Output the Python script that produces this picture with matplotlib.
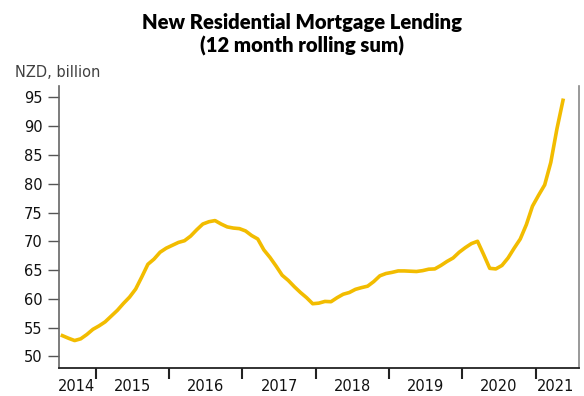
import matplotlib
matplotlib.use("Agg")
import matplotlib.pyplot as plt
import numpy as np

# 12 month rolling sum of new residential mortgage lending, NZD billion, Jul 2014 - May 2021
start_year = 2014
start_month = 7
lending = [
    53.6, 53.15, 52.75, 53.05, 53.8, 54.7, 55.3, 56.0, 57.0, 58.0, 59.2, 60.3,
    61.7, 63.8, 66.0, 66.9, 68.1, 68.8, 69.3, 69.8, 70.1, 70.9, 72.0, 73.0,
    73.4, 73.6, 73.0, 72.5, 72.3, 72.2, 71.8, 71.0, 70.4, 68.5, 67.2, 65.7,
    64.1, 63.2, 62.1, 61.1, 60.2, 59.15, 59.25, 59.55, 59.5, 60.2, 60.8, 61.1,
    61.65, 61.95, 62.2, 63.0, 64.0, 64.4, 64.6, 64.85, 64.85, 64.8, 64.75, 64.9,
    65.15, 65.2, 65.8, 66.5, 67.1, 68.1, 68.9, 69.6, 70.0, 67.7, 65.3, 65.2,
    65.8, 67.1, 68.8, 70.4, 72.9, 76.1, 78.0, 79.8, 83.7, 89.5, 94.5,
]
years = [2014, 2015, 2016, 2017, 2018, 2019, 2020, 2021]
y_ticks = [50, 55, 60, 65, 70, 75, 80, 85, 90, 95]

# monthly points placed mid-month on a fractional-year axis
x = start_year + (start_month - 1 + np.arange(len(lending)) + 0.5) / 12.0

fig = plt.figure(figsize=(5.84, 3.96), dpi=100)
ax = fig.add_axes([0.101, 0.071, 0.890, 0.712])

ax.plot(x, lending, color="#F2BC00", lw=2.6, solid_joinstyle="round")

ax.set_xlim(2014.495, 2021.59)
ax.set_ylim(48.0, 97.0)

# year boundaries as tick marks, year names between them
ax.set_xticks(years[1:])
ax.set_xticklabels([])
ax.tick_params(axis="x", direction="out", length=8, width=1.5, color="#222222")
label_pos = [2014.74, 2015.5, 2016.5, 2017.5, 2018.5, 2019.5, 2020.5, 2021.28]
for yr, pos in zip(years, label_pos):
    ax.text(pos, -0.065, str(yr), transform=ax.get_xaxis_transform(),
            ha="center", va="center", fontsize=10.5, color="#111111")

ax.set_yticks(y_ticks)
ax.set_yticklabels([str(v) for v in y_ticks], fontsize=10.5, color="#111111")
ax.tick_params(axis="y", direction="out", length=8, width=1, color="#555555", pad=4)

ax.spines["top"].set_visible(False)
ax.spines["left"].set_color("#666666")
ax.spines["left"].set_linewidth(1.2)
ax.spines["right"].set_color("#888888")
ax.spines["right"].set_linewidth(1.2)
ax.spines["bottom"].set_color("#222222")
ax.spines["bottom"].set_linewidth(1.3)

fig.text(0.025, 0.818, "NZD, billion", fontsize=10.5, color="#404040",
         ha="left", va="center")
fig.text(0.517, 0.927, "New Residential Mortgage Lending", fontsize=14.6,
         fontweight="heavy", family="Lato", ha="center", va="baseline")
fig.text(0.517, 0.867, "(12 month rolling sum)", fontsize=14.6,
         fontweight="heavy", family="Lato", ha="center", va="baseline")

fig.savefig("out.png", dpi=100)
